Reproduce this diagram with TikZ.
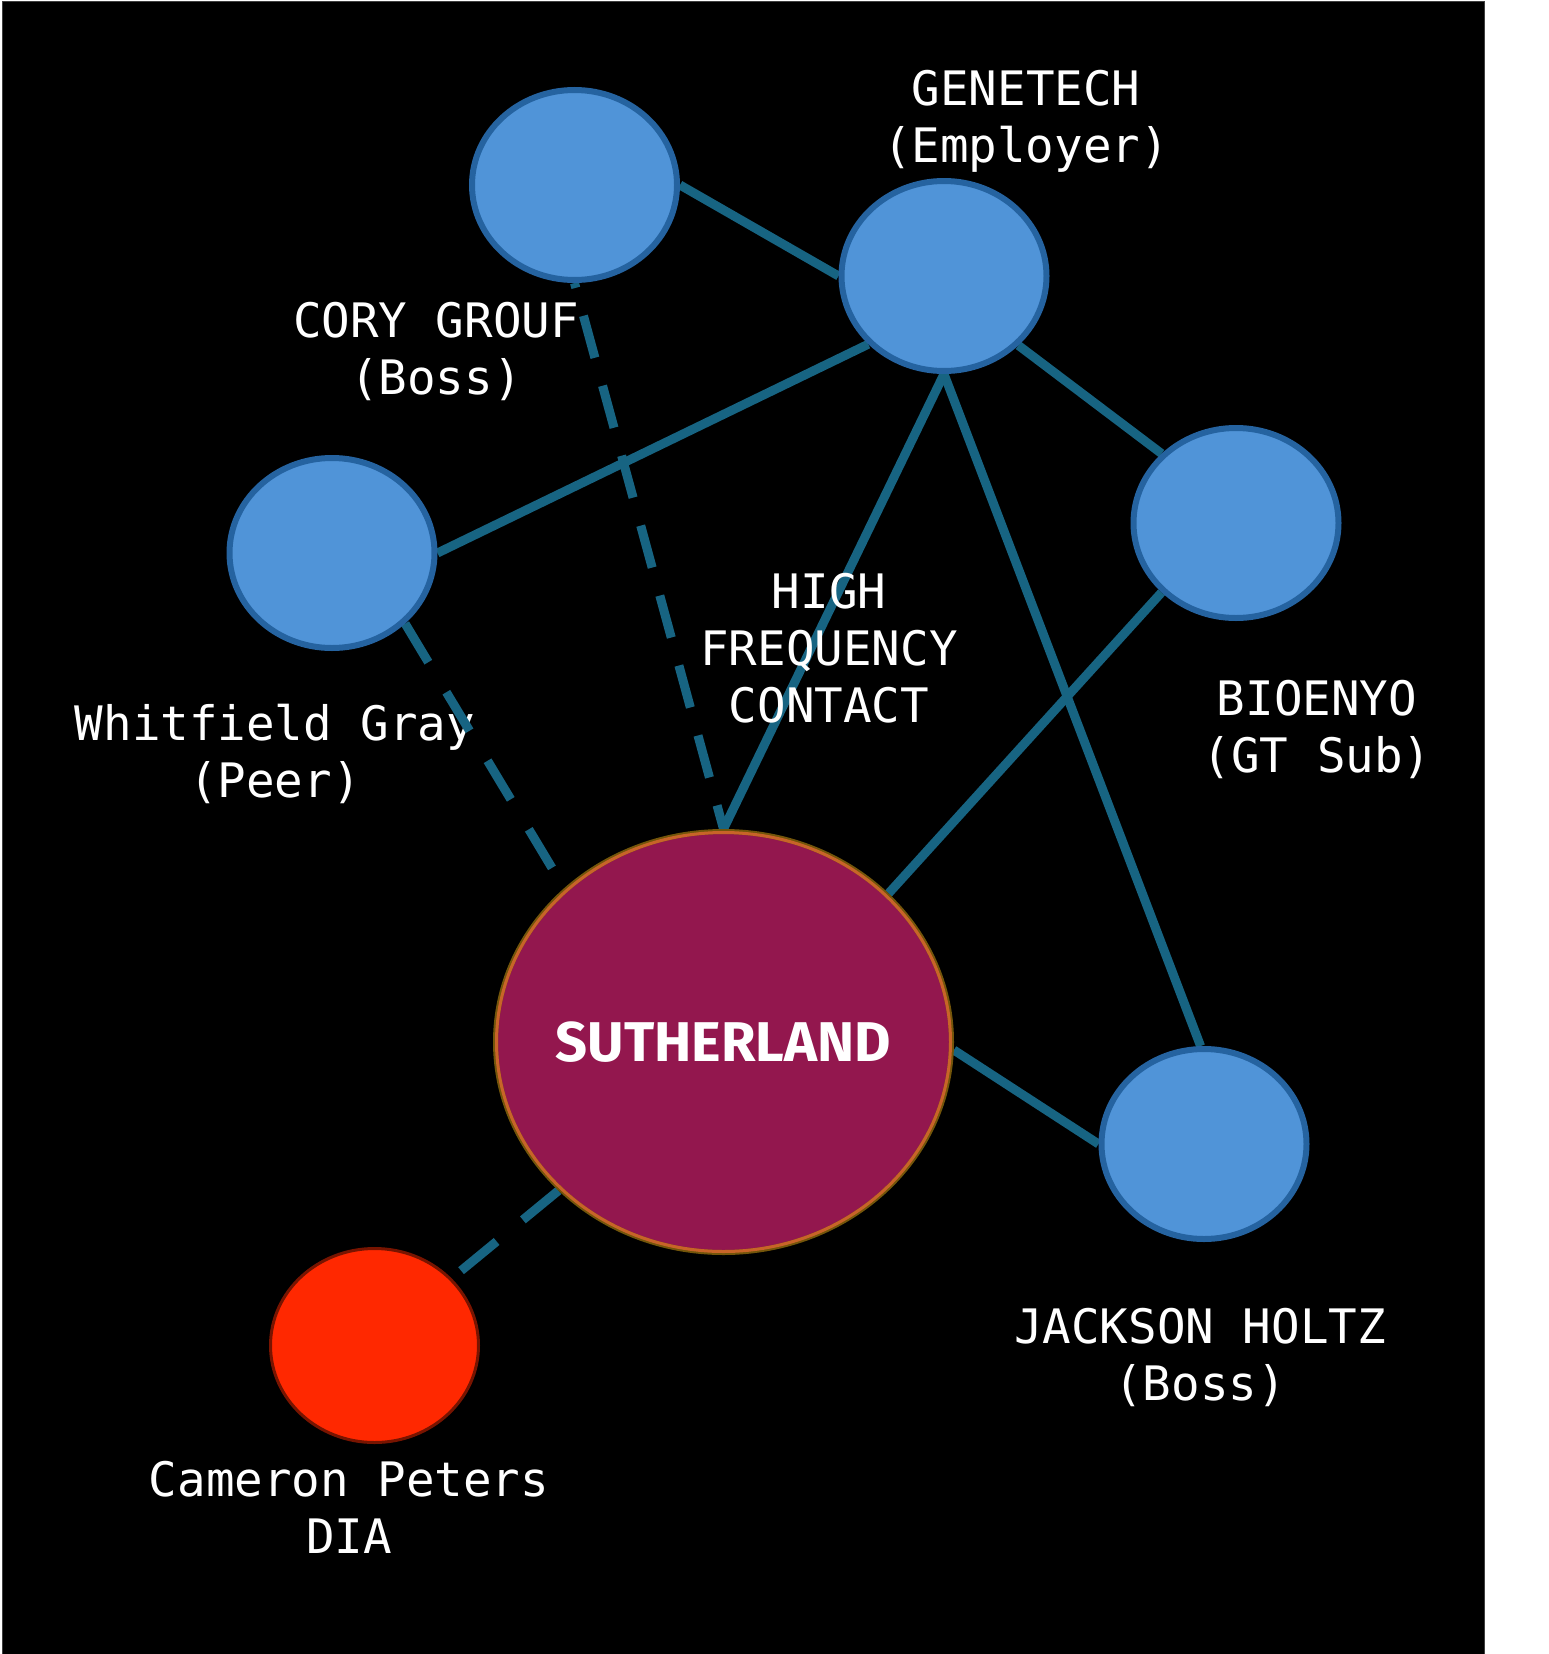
\documentclass[tikz,border=0pt]{standalone}
\usepackage{fontspec}
\setmonofont{DejaVu Sans Mono}
\newfontfamily\sutherfont{Fira Sans}
\usetikzlibrary{shapes.geometric}
\pgfdeclarelayer{bg}
\pgfdeclarelayer{solid}
\pgfdeclarelayer{top}
\pgfsetlayers{bg,solid,main,top}
\definecolor{edgecol}{RGB}{23,100,130}
\definecolor{bluefill}{RGB}{80,148,216}
\definecolor{blueline}{RGB}{37,99,160}
\definecolor{sfill}{RGB}{147,23,78}
\definecolor{sline}{RGB}{200,100,40}
\definecolor{sline2}{RGB}{115,85,10}
\definecolor{redfill}{RGB}{255,40,0}
\definecolor{redline}{RGB}{120,20,0}
\tikzset{
  person/.style={ellipse, draw=blueline, fill=bluefill, line width=6pt,
    minimum width=205pt, minimum height=190pt, inner sep=0pt},
  suspect/.style={ellipse, draw=redline, fill=redfill, line width=3pt,
    minimum width=208pt, minimum height=194pt, inner sep=0pt},
  centre/.style={ellipse, draw=sline2, fill=sfill, line width=5pt,
    minimum width=456pt, minimum height=421pt, inner sep=0pt, text=white,
    font=\sutherfont\bfseries\fontsize{56}{60}\selectfont,
    text height=38.6pt, text depth=0pt},
  lbl/.style={text=white, align=center, inner sep=0pt,
    font=\ttfamily\fontsize{47.5}{57}\selectfont},
  link/.style={draw=edgecol, line width=9pt},
  weak/.style={draw=edgecol, line width=9pt},
}
\begin{document}
\begin{tikzpicture}[x=1pt,y=-1pt]
\useasboundingbox (0,0) rectangle (1549,1654);
\begin{pgfonlayer}{bg}
\fill[white] (0,0) rectangle (1549,1654);
\filldraw[fill=black, draw=black!75, line width=1pt] (2,2) rectangle (1484,1660);
\end{pgfonlayer}

\begin{pgfonlayer}{top}
\node[person] (cory) at (574.5,185) {};
\node[person] (gene) at (944,276) {};
\node[person] (whit) at (332,553) {};
\node[person] (bio) at (1236,523) {};
\node[person] (jack) at (1204,1144) {};
\node[suspect] (cam) at (374.5,1345.5) {};
\node[centre] (suth) at (723.5,1042) {\makebox[0pt]{SUTHERLAND}};
\draw[sline, line width=3pt] (suth.center) ellipse [x radius=227pt, y radius=209.5pt];
\end{pgfonlayer}

% solid connectors
\begin{pgfonlayer}{solid}
\draw[link] (cory.east) -- (gene.west);
\draw[link] (gene.222.3) -- (whit.east);
\draw[link] (gene.317.8) -- (bio.137.4);
\draw[link] (gene.south) -- (suth.north);
\draw[link] (gene.south) -- (jack.92.4);
\draw[link] (bio.223) -- (suth.42.9);
\draw[link] (suth.-2) -- (jack.west);
\end{pgfonlayer}

% labels
\node[lbl] (lgene) at (1026,121) {GENETECH\\(Employer)};
\node[lbl] (lcory) at (436,352) {CORY GROUF\\(Boss)};
\node[lbl] (lwhit) at (275,754) {Whitfield Gray\\(Peer)};
\node[lbl] (lhfc) at (829,648) {HIGH\\FREQUENCY\\CONTACT};
\node[lbl] (lbio) at (1317,729) {BIOENYO\\(GT Sub)};
\node[lbl] (ljack) at (1200,1357) {JACKSON HOLTZ\\(Boss)};
\node[lbl] (lcam) at (349,1507) {Cameron Peters\\DIA};

% dashed connectors
\draw[weak, dash pattern=on 43.5pt off 29pt, dash phase=38.5pt] (cory.south) -- (suth.north);
\draw[weak, dash pattern=on 45pt off 35pt] (whit.-44.2) -- (suth.136.4);
\draw[weak, dash pattern=on 46pt off 34pt] (suth.222.6) -- (cam.41.4);
\end{tikzpicture}
\end{document}
